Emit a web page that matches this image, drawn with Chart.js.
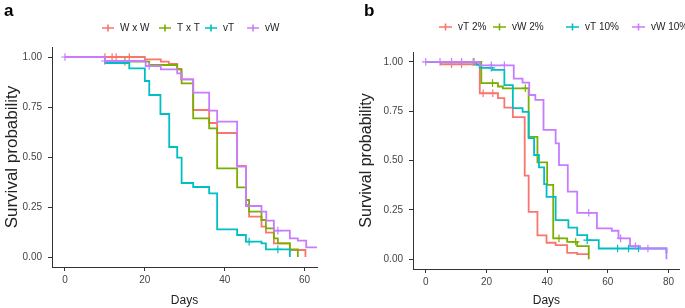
<!DOCTYPE html>
<html><head><meta charset="utf-8">
<script src="https://cdn.jsdelivr.net/npm/chart.js@4.4.1/dist/chart.umd.min.js"></script>
<style>
html,body{margin:0;padding:0;background:#fff;width:685px;height:308px;overflow:hidden}
#ca{position:absolute;left:0;top:0}
#cb{position:absolute;left:340px;top:0}
</style></head><body>
<canvas id="ca" width="340" height="308"></canvas>
<canvas id="cb" width="345" height="308"></canvas>
<script>
// ---------- Panel a data ----------
const aNames = ['W x W', 'T x T', 'vT', 'vW'];
const aWxW_t = [0, 20, 24, 26, 28.1, 29.1, 32.1, 36.1, 38.1, 43.1, 45.3, 46.1, 49.2, 50.3, 52.3, 56.3, 60.2];
const aWxW_s = [1, 0.988, 0.977, 0.965, 0.94, 0.888, 0.735, 0.67, 0.62, 0.455, 0.26, 0.202, 0.152, 0.122, 0.068, 0.035, 0];
const aWxW_c = [10, 11.8, 12.8, 16.1];
const aTxT_t = [0, 10, 21.1, 28.1, 29.2, 32.1, 36.1, 38.1, 43.1, 45.3, 46.1, 49.2, 50.3, 52.3, 53.3, 56.3, 58.3];
const aTxT_s = [1, 0.977, 0.96, 0.938, 0.868, 0.693, 0.643, 0.443, 0.348, 0.285, 0.227, 0.185, 0.143, 0.093, 0.068, 0.038, 0];
const aTxT_c = [15];
const avT_t = [0, 10, 16.1, 20, 21.1, 23.9, 26.1, 28.1, 29.2, 32.1, 36.1, 38.1, 43.1, 45.3, 49.2, 50.3, 56.3];
const avT_s = [1, 0.97, 0.943, 0.88, 0.81, 0.715, 0.55, 0.497, 0.37, 0.35, 0.318, 0.138, 0.11, 0.077, 0.068, 0.038, 0];
const avT_c = [46.1, 53.3];
const avW_t = [0, 10, 20.2, 24, 28.1, 29.2, 32.1, 36.1, 38.1, 43.1, 45.3, 49.2, 50.4, 52.3, 56.3, 58.3, 60.4, 63.3];
const avW_s = [1, 0.98, 0.955, 0.938, 0.918, 0.888, 0.822, 0.732, 0.677, 0.452, 0.255, 0.227, 0.182, 0.132, 0.093, 0.082, 0.048, 0.048];
const avW_c = [0, 10, 21.1, 53.3];
const aXTicks = [0, 20, 40, 60];
const aYTicks = [0, 0.25, 0.5, 0.75, 1];

// ---------- Panel b data ----------
const bNames = ['vT 2%', 'vW 2%', 'vT 10%', 'vW 10%'];
const bvT2_t = [0, 5, 17.8, 23.8, 25.9, 28.7, 32.6, 33.9, 36.8, 39.8, 42.8, 46.6, 49.9, 53.7];
const bvT2_s = [1, 0.988, 0.841, 0.816, 0.768, 0.72, 0.423, 0.24, 0.12, 0.083, 0.071, 0.032, 0.025, 0.025];
const bvT2_c = [8.5, 11.8, 18.9, 22.1];
const bvW2_t = [0, 18.3, 23.8, 25.4, 33.9, 36.8, 40, 42, 46.6, 49.9, 53.7];
const bvW2_s = [1, 0.892, 0.875, 0.866, 0.62, 0.49, 0.376, 0.105, 0.088, 0.066, 0];
const bvW2_c = [15.9, 22, 32.8, 43.9, 49.4];
const bvT10_t = [0, 16.7, 17.8, 21.9, 25.9, 28.7, 31.9, 33.9, 35.7, 37.3, 39, 39.8, 42.8, 47, 49.9, 53.2, 57, 79.3];
const bvT10_s = [1, 0.985, 0.97, 0.959, 0.882, 0.765, 0.746, 0.613, 0.528, 0.465, 0.38, 0.316, 0.198, 0.16, 0.122, 0.096, 0.054, 0.03];
const bvT10_c = [21.6, 53.2, 63.2, 66.8, 70.1];
const bvW10_t = [0, 17.8, 29, 31.9, 34.1, 36.1, 38.8, 42.8, 43.9, 46.8, 49.9, 56.4, 61.3, 63.5, 67.3, 70.6, 79.3];
const bvW10_s = [1, 0.982, 0.915, 0.895, 0.832, 0.807, 0.655, 0.587, 0.477, 0.342, 0.235, 0.156, 0.144, 0.105, 0.066, 0.054, 0];
const bvW10_c = [0, 4.7, 8.5, 11.8, 15.6, 21.6, 25.9, 53.7, 64.2, 69.1, 73.2];
const bXTicks = [0, 20, 40, 60, 80];
const bYTicks = [0, 0.25, 0.5, 0.75, 1];

// ---------- styling ----------
const COLORS = ['#F8766D', '#7CAE00', '#00BFC4', '#C77CFF'];
const FONT = '"Liberation Sans", Arial, sans-serif';

function stepAt(ts, ss, t) {
  let v = ss[0];
  for (let i = 0; i < ts.length; i++) if (ts[i] <= t) v = ss[i];
  return v;
}

function buildDatasets(series) {
  const ds = [];
  series.forEach((s, k) => {
    const ord = series.length - 1 - k; // later series drawn on top
    ds.push({
      label: s.name,
      data: s.t.map((t, i) => ({x: t, y: s.s[i]})),
      showLine: true, stepped: true,
      borderColor: s.color, backgroundColor: s.color,
      borderWidth: 1.8, pointRadius: 0, pointHoverRadius: 0,
      order: ord * 2 + 1
    });
    ds.push({
      label: s.name + ' (censored)',
      data: s.c.map(t => ({x: t, y: stepAt(s.t, s.s, t)})),
      showLine: false,
      pointStyle: 'cross', pointRadius: 3.8, pointBorderWidth: 1.2,
      borderColor: s.color, backgroundColor: s.color, borderWidth: 1.2,
      order: ord * 2
    });
  });
  return ds;
}

const kmLegend = {
  id: 'kmLegend',
  afterDraw(chart, args, o) {
    const ctx = chart.ctx;
    ctx.save();
    ctx.font = o.font;
    ctx.textBaseline = 'middle';
    ctx.textAlign = 'left';
    o.items.forEach((it, i) => {
      const x = o.xs[i], y = o.y;
      ctx.strokeStyle = it.color;
      ctx.lineWidth = 1.6;
      ctx.beginPath();
      ctx.moveTo(x, y); ctx.lineTo(x + o.symW, y);
      ctx.moveTo(x + o.symW / 2, y - 3.5); ctx.lineTo(x + o.symW / 2, y + 3.5);
      ctx.stroke();
      ctx.fillStyle = '#222';
      ctx.fillText(it.label, x + o.symW + o.gap, y);
    });
    ctx.font = o.tagFont;
    ctx.fillStyle = '#000';
    ctx.textBaseline = 'alphabetic';
    ctx.fillText(o.tag, o.tagX, o.tagY);
    ctx.restore();
  }
};

function makeChart(id, series, cfg) {
  return new Chart(document.getElementById(id), {
    type: 'scatter',
    data: {datasets: buildDatasets(series)},
    plugins: [kmLegend],
    options: {
      responsive: false, animation: false, devicePixelRatio: 1,
      layout: {padding: {top: cfg.top, right: cfg.right, left: 0, bottom: 0}},
      plugins: {
        legend: {display: false}, tooltip: {enabled: false}, title: {display: false},
        kmLegend: {
          items: series.map(s => ({label: s.name, color: s.color})),
          xs: cfg.legendXs, y: cfg.legendY, symW: cfg.symW, gap: 6,
          font: '10px ' + FONT,
          tag: cfg.tag, tagX: cfg.tagX, tagY: 16, tagFont: 'bold 17px ' + FONT
        }
      },
      scales: {
        x: {
          type: 'linear', min: cfg.xmin, max: cfg.xmax,
          afterFit: s => { s.height = cfg.xAxisH; },
          afterBuildTicks: s => { s.ticks = cfg.xTicks.map(v => ({value: v})); },
          border: {display: true, color: '#333', width: 1},
          grid: {display: true, drawOnChartArea: false, drawTicks: true, tickLength: 4, color: '#333', tickWidth: 1},
          ticks: {color: '#444', font: {family: FONT, size: 10}, padding: 3, maxRotation: 0, callback: v => String(v)},
          title: {display: true, text: 'Days', color: '#222', font: {family: FONT, size: 12}, padding: {top: 0, bottom: 0}}
        },
        y: {
          type: 'linear', min: -0.05, max: 1.05,
          afterFit: s => { s.width = cfg.yAxisW; },
          afterBuildTicks: s => { s.ticks = cfg.yTicks.map(v => ({value: v})); },
          border: {display: true, color: '#333', width: 1},
          grid: {display: true, drawOnChartArea: false, drawTicks: true, tickLength: 4, color: '#333', tickWidth: 1},
          ticks: {color: '#444', font: {family: FONT, size: 10}, padding: 6, callback: v => Number(v).toFixed(2)},
          title: {display: true, text: 'Survival probability', color: '#222', font: {family: FONT, size: cfg.yTitleSize}, padding: {top: cfg.yTitlePad, bottom: 0}}
        }
      }
    }
  });
}

const seriesA = [
  {name: aNames[0], t: aWxW_t, s: aWxW_s, c: aWxW_c, color: COLORS[0]},
  {name: aNames[1], t: aTxT_t, s: aTxT_s, c: aTxT_c, color: COLORS[1]},
  {name: aNames[2], t: avT_t, s: avT_s, c: avT_c, color: COLORS[2]},
  {name: aNames[3], t: avW_t, s: avW_s, c: avW_c, color: COLORS[3]}
];
const seriesB = [
  {name: bNames[0], t: bvT2_t, s: bvT2_s, c: bvT2_c, color: COLORS[0]},
  {name: bNames[1], t: bvW2_t, s: bvW2_s, c: bvW2_c, color: COLORS[1]},
  {name: bNames[2], t: bvT10_t, s: bvT10_s, c: bvT10_c, color: COLORS[2]},
  {name: bNames[3], t: bvW10_t, s: bvW10_s, c: bvW10_c, color: COLORS[3]}
];

makeChart('ca', seriesA, {
  top: 47, right: 23, xAxisH: 41, yAxisW: 52, xmin: -3.25, xmax: 63.1,
  xTicks: aXTicks, yTicks: aYTicks, yTitleSize: 17, yTitlePad: 2,
  legendXs: [102, 159, 205, 247], legendY: 28, symW: 12,
  tag: 'a', tagX: 4
});
makeChart('cb', seriesB, {
  top: 52, right: 3, xAxisH: 39, yAxisW: 73, xmin: -4.2, xmax: 83.7,
  xTicks: bXTicks, yTicks: bYTicks, yTitleSize: 16, yTitlePad: 17,
  legendXs: [99, 153, 226, 292], legendY: 27, symW: 13,
  tag: 'b', tagX: 24
});
</script>
</body></html>
